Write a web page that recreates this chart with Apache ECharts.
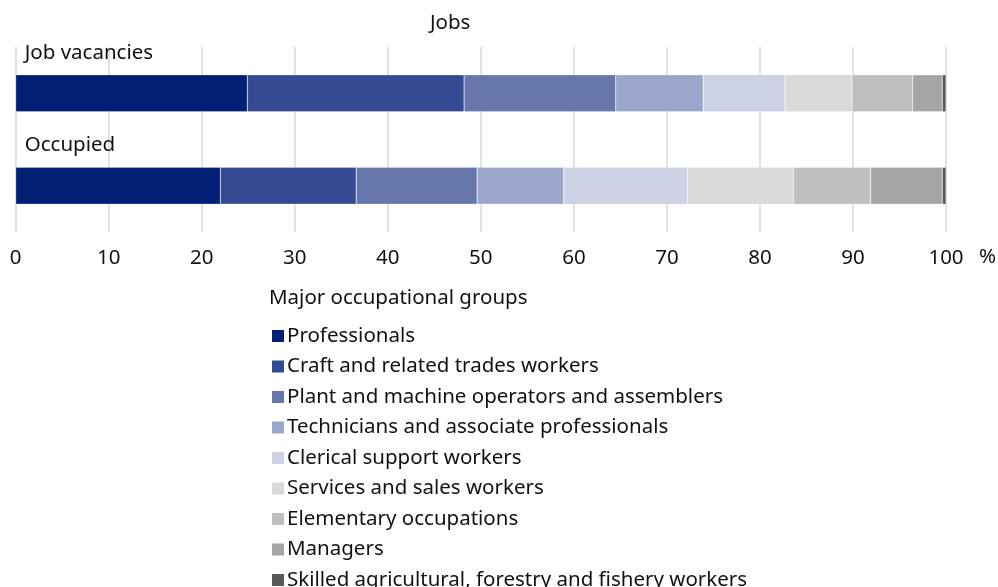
<!DOCTYPE html>
<html>
<head>
<meta charset="utf-8">
<script src="https://cdn.jsdelivr.net/npm/echarts@6/dist/echarts.min.js"></script>
<style>
  html, body { margin: 0; padding: 0; background: #fff; }
  #chart { width: 998px; height: 587px; }
</style>
</head>
<body>
<div id="chart"></div>
<script>
// Share of each major occupational group, in percent
const categories = ['Job vacancies', 'Occupied'];
const groups = [
  'Professionals',
  'Craft and related trades workers',
  'Plant and machine operators and assemblers',
  'Technicians and associate professionals',
  'Clerical support workers',
  'Services and sales workers',
  'Elementary occupations',
  'Managers',
  'Skilled agricultural, forestry and fishery workers'
];
const vacancies = [24.9, 23.3, 16.3, 9.4, 8.8, 7.2, 6.5, 3.2, 0.4];
const occupied  = [22.0, 14.6, 13.0, 9.3, 13.3, 11.4, 8.3, 7.7, 0.4];
const xTicks = [0, 10, 20, 30, 40, 50, 60, 70, 80, 90, 100];

const colors = ['#001f75', '#344a92', '#6777ab', '#9aa7ca', '#ccd2e4',
                '#d9d9d9', '#bfbfbf', '#a5a5a5', '#595959'];
const FONT = 'Noto Sans';
const FS = 20.5;

const chart = echarts.init(document.getElementById('chart'), null, { renderer: 'canvas' });

const series = groups.map((name, i) => ({
  name,
  type: 'bar',
  stack: 'jobs',
  barWidth: 37,
  itemStyle: { color: colors[i], borderColor: 'rgba(255,255,255,0.5)', borderWidth: 0.5 },
  emphasis: { disabled: true },
  data: [vacancies[i], occupied[i]]
}));

chart.setOption({
  animation: false,
  color: colors,
  textStyle: { fontFamily: FONT },
  title: [
    { text: 'Jobs', left: 430, top: 13, padding: 0,
      textStyle: { fontFamily: FONT, fontSize: FS, fontWeight: 'normal', color: '#111' } },
    { text: 'Major occupational groups', left: 269, top: 288, padding: 0,
      textStyle: { fontFamily: FONT, fontSize: FS, fontWeight: 'normal', color: '#111' } }
  ],
  grid: { left: 15.7, right: 52, top: 47, bottom: 355, containLabel: false },
  xAxis: {
    type: 'value',
    min: 0, max: 100, interval: 10,
    name: '%',
    nameLocation: 'end',
    nameGap: 33,
    nameTextStyle: { fontFamily: FONT, fontSize: FS, color: '#111', align: 'left', verticalAlign: 'top', padding: [15, 0, 0, 0] },
    axisLine: { show: false },
    axisTick: { show: false },
    axisLabel: {
      margin: 16, fontFamily: FONT, fontSize: FS, color: '#111',
      formatter: v => (xTicks.indexOf(v) >= 0 ? String(v) : '')
    },
    splitLine: { show: true, lineStyle: { color: '#d9d9d9', width: 1.5 } }
  },
  yAxis: {
    type: 'category',
    inverse: true,
    data: categories,
    axisLine: { show: false },
    axisTick: { show: false },
    axisLabel: {
      inside: true,
      margin: 9,
      align: 'left',
      verticalAlign: 'bottom',
      padding: [0, 0, 30, 0],
      fontFamily: FONT, fontSize: FS, color: '#111'
    },
    z: 10
  },
  legend: {
    orient: 'vertical',
    left: 272, top: 325, height: 400,
    padding: 0,
    itemWidth: 12, itemHeight: 12,
    itemGap: 8.5,
    itemStyle: { borderWidth: 0 },
    icon: 'rect',
    selectedMode: false,
    data: groups,
    textStyle: { fontFamily: FONT, fontSize: FS, color: '#111', lineHeight: 22, padding: [0, 0, 0, -2] }
  },
  series
});
</script>
</body>
</html>
